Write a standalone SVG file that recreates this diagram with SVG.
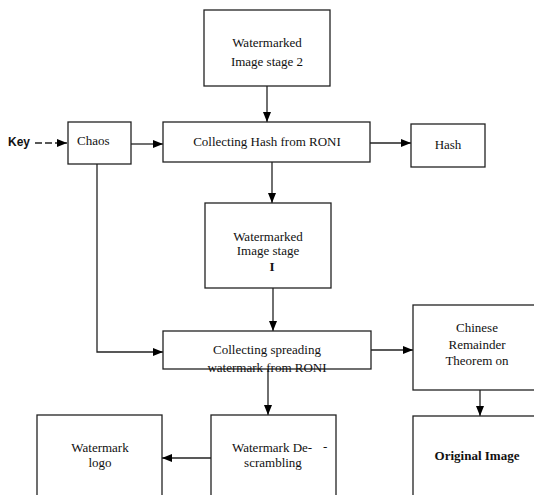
<svg xmlns="http://www.w3.org/2000/svg" width="534" height="495" viewBox="0 0 534 495">
<defs>
<marker id="ah" viewBox="0 0 10 8" refX="10" refY="4" markerWidth="10" markerHeight="8" markerUnits="userSpaceOnUse" orient="auto">
<path d="M0,0 L10,4 L0,8 Z" fill="#000"/>
</marker>
</defs>
<style>
.box{fill:#fff;stroke:#222;stroke-width:1.3}
.t{font-family:"Liberation Serif","Times New Roman",serif;font-size:13px;fill:#111;text-anchor:middle}
.b{font-weight:bold}
.c{fill:none;stroke:#222;stroke-width:1.3}
</style>
<rect width="534" height="495" fill="#fff"/>
<g id="connectors">
<line class="c" x1="35" y1="143" x2="67" y2="143" stroke-dasharray="7,3" marker-end="url(#ah)"/>
<line class="c" x1="131" y1="144" x2="163" y2="144" marker-end="url(#ah)"/>
<line class="c" x1="267" y1="86" x2="267" y2="122" marker-end="url(#ah)"/>
<line class="c" x1="370" y1="143" x2="411" y2="143" marker-end="url(#ah)"/>
<line class="c" x1="272" y1="162" x2="272" y2="203" marker-end="url(#ah)"/>
<polyline class="c" points="97,164 97,352 163,352" marker-end="url(#ah)"/>
<line class="c" x1="273" y1="288" x2="273" y2="331" marker-end="url(#ah)"/>
<line class="c" x1="371" y1="350" x2="413" y2="350" marker-end="url(#ah)"/>
<line class="c" x1="268" y1="369" x2="268" y2="415" marker-end="url(#ah)"/>
<line class="c" x1="480" y1="390" x2="480" y2="416" marker-end="url(#ah)"/>
<line class="c" x1="211" y1="458" x2="162" y2="458" marker-end="url(#ah)"/>
</g>
<g id="key">
<text x="8" y="146" font-family="Liberation Sans,Arial,sans-serif" font-size="12" font-weight="bold" fill="#111">Key</text>
</g>
<g id="stage2">
<rect class="box" x="204" y="10" width="126" height="76"/>
<text class="t" x="267" y="47">Watermarked</text>
<text class="t" x="267" y="66">Image stage 2</text>
</g>
<g id="chaos">
<rect class="box" x="68" y="122" width="63" height="42"/>
<text class="t" x="77" y="145" style="text-anchor:start">Chaos</text>
</g>
<g id="hashcollect">
<rect class="box" x="163" y="122" width="207" height="40"/>
<text class="t" x="267" y="146">Collecting Hash from RONI</text>
</g>
<g id="hash">
<rect class="box" x="411" y="124" width="74" height="43"/>
<text class="t" x="448" y="149">Hash</text>
</g>
<g id="stage1">
<rect class="box" x="205" y="203" width="126" height="85"/>
<text class="t" x="268" y="241">Watermarked</text>
<text class="t" x="268" y="255">Image stage</text>
<text class="t b" x="272" y="271" font-size="10">I</text>
</g>
<g id="spreadcollect">
<rect class="box" x="163" y="331" width="208" height="38"/>
<text class="t" x="267" y="354">Collecting spreading</text>
<text class="t" x="267" y="372">watermark from RONI</text>
</g>
<g id="crt">
<rect class="box" x="413" y="305" width="130" height="85"/>
<text class="t" x="477" y="332">Chinese</text>
<text class="t" x="477" y="349">Remainder</text>
<text class="t" x="477" y="365">Theorem on</text>
</g>
<g id="logo">
<rect class="box" x="37" y="415" width="125" height="90"/>
<text class="t" x="100" y="452">Watermark</text>
<text class="t" x="100" y="467">logo</text>
</g>
<g id="descramble">
<rect class="box" x="211" y="415" width="125" height="90"/>
<text class="t" x="232" y="452" style="text-anchor:start">Watermark De-</text>
<text class="t" x="323" y="451" style="text-anchor:start">-</text>
<text class="t" x="273" y="467">scrambling</text>
</g>
<g id="original">
<rect class="box" x="413" y="416" width="130" height="90"/>
<text class="t b" x="477" y="460">Original Image</text>
</g>
</svg>
